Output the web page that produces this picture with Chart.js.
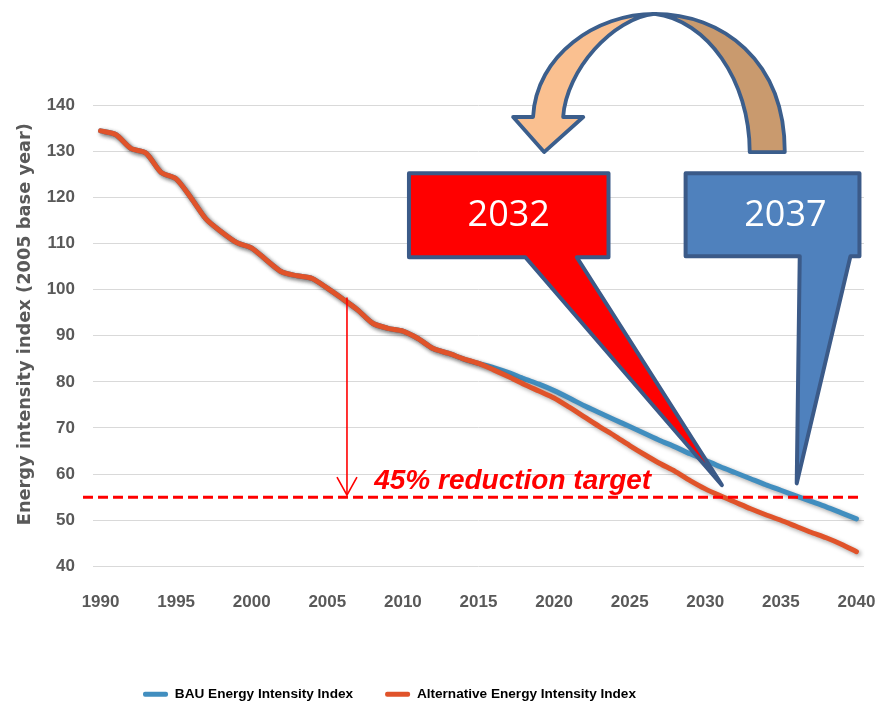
<!DOCTYPE html>
<html><head><meta charset="utf-8">
<script src="https://cdn.jsdelivr.net/npm/chart.js@4.4.1/dist/chart.umd.min.js"></script>
<style>html,body{margin:0;padding:0;background:#fff;overflow:hidden}#wrap{width:879px;height:708px}</style>
</head><body><div id="wrap"><canvas id="c" width="879" height="708"></canvas></div>
<script>
// ---------- data ----------
const years = ['1990','1991','1992','1993','1994','1995','1996','1997','1998','1999',
  '2000','2001','2002','2003','2004','2005','2006','2007','2008','2009',
  '2010','2011','2012','2013','2014','2015','2016','2017','2018','2019',
  '2020','2021','2022','2023','2024','2025','2026','2027','2028','2029',
  '2030','2031','2032','2033','2034','2035','2036','2037','2038','2039','2040'];
const bauValues = [134.4,133.6,130.6,129.6,125.4,124.0,119.8,115.2,112.5,110.2,
  109.0,106.3,103.8,103.0,102.4,100.3,98.0,95.6,92.7,91.6,
  91.0,89.4,87.2,86.2,85.0,84.0,83.1,82.0,80.7,79.5,
  78.1,76.5,74.8,73.3,71.8,70.3,68.8,67.3,65.9,64.4,
  63.0,61.6,60.3,59.0,57.7,56.5,55.3,54.1,52.9,51.6,50.3];
const altValues = [134.4,133.6,130.6,129.6,125.4,124.0,119.8,115.2,112.5,110.2,
  109.0,106.3,103.8,103.0,102.4,100.3,98.0,95.6,92.7,91.6,
  91.0,89.4,87.2,86.2,85.0,84.0,82.6,81.1,79.5,78.0,
  76.5,74.5,72.4,70.3,68.3,66.2,64.2,62.3,60.6,58.6,
  56.8,55.3,53.9,52.5,51.2,50.0,48.7,47.4,46.2,44.8,43.2];
const seriesNames = ['BAU Energy Intensity Index','Alternative Energy Intensity Index'];
const yMin = 40, yMax = 140, yStep = 10;
const targetValue = 55;
const targetLabel = '45% reduction target';
const arrowYear = 2006.3, arrowFrom = 98.3;
const callouts = [
  {label:'2032', fill:'#ff0000', box:[2010.4,2023.6,125.2,107.0], base:[2018.1,2021.5], tip:[2031.1,57.6], text:[2017.0,115.9]},
  {label:'2037', fill:'#4f81bd', box:[2028.7,2040.2,125.2,107.2], base:[2036.25,2039.6], tip:[2036.05,58.0], text:[2035.3,115.9]}
];
const yTitle = 'Energy intensity index (2005 base year)';

const FONT = '"Liberation Sans",Arial,sans-serif';
const GREY = '#595959';

const shadow = {
  id:'shadow',
  beforeDatasetDraw(chart){ const c=chart.ctx; c.save(); c.shadowColor='rgba(0,0,0,0.35)'; c.shadowBlur=4; c.shadowOffsetX=2; c.shadowOffsetY=2; },
  afterDatasetDraw(chart){ chart.ctx.restore(); }
};

// legend sits left of centre and a little lower in the reference
const legendShift = {
  id:'legendShift',
  afterLayout(chart){ const l=chart.legend; if(!l) return; l.left-=50; l.right-=50; l.top+=3; l.bottom+=3; }
};

const annot = {
  id:'annot',
  afterDatasetsDraw(chart){
    const {ctx, chartArea:ca, scales:{x,y}} = chart;
    const X = yr => x.getPixelForValue(yr - 1990);
    const Y = v => y.getPixelForValue(v);
    ctx.save();
    // target line
    ctx.strokeStyle='#ff0000'; ctx.lineWidth=3; ctx.setLineDash([10,5]);
    ctx.beginPath(); ctx.moveTo(ca.left-10, Y(targetValue)); ctx.lineTo(ca.right-2, Y(targetValue)); ctx.stroke();
    ctx.setLineDash([]);
    // arrow
    const ax = X(arrowYear), tipY = Y(targetValue)-2;
    ctx.lineWidth=1.6;
    ctx.beginPath(); ctx.moveTo(ax, Y(arrowFrom)); ctx.lineTo(ax, tipY); ctx.stroke();
    ctx.beginPath(); ctx.moveTo(ax-10, tipY-18); ctx.lineTo(ax, tipY); ctx.lineTo(ax+10, tipY-18); ctx.stroke();
    // target text
    ctx.fillStyle='#ff0000'; ctx.font='italic bold 28px '+FONT;
    ctx.textAlign='left'; ctx.textBaseline='alphabetic';
    ctx.fillText(targetLabel, X(2008.1), Y(56.7));
    // callouts
    ctx.lineJoin='round'; ctx.lineWidth=4; ctx.strokeStyle='#3b5a88';
    callouts.forEach(c=>{
      const [l,r,t,b]=c.box;
      ctx.beginPath();
      ctx.moveTo(X(l),Y(t)); ctx.lineTo(X(r),Y(t)); ctx.lineTo(X(r),Y(b));
      ctx.lineTo(X(c.base[1]),Y(b)); ctx.lineTo(X(c.tip[0]),Y(c.tip[1])); ctx.lineTo(X(c.base[0]),Y(b));
      ctx.lineTo(X(l),Y(b)); ctx.closePath();
      ctx.fillStyle=c.fill; ctx.fill(); ctx.stroke();
      ctx.fillStyle='#ffffff'; ctx.font='36px "Open Sans",sans-serif'; ctx.textAlign='center'; ctx.textBaseline='middle';
      ctx.fillText(c.label, X(c.text[0]), Y(c.text[1]));
    });
    // curved arrow
    const P = (yr,v)=>[X(yr),Y(v)];
    const apex = P(2026.64,159.74);
    ctx.lineWidth=3.8; ctx.strokeStyle='#3b5e8c';
    ctx.beginPath(); ctx.moveTo(...apex);
    ctx.bezierCurveTo(...P(2031.08,159.74), ...P(2035.26,149.76), ...P(2035.26,129.8));
    ctx.lineTo(...P(2032.94,129.8));
    ctx.bezierCurveTo(...P(2032.94,145.42), ...P(2030.09,158.44), ...apex);
    ctx.closePath(); ctx.fillStyle='#c99a6e'; ctx.fill(); ctx.stroke();
    ctx.beginPath(); ctx.moveTo(...apex);
    ctx.bezierCurveTo(...P(2022.79,159.74), ...P(2018.81,150.85), ...P(2018.61,137.4));
    ctx.lineTo(...P(2017.29,137.4)); ctx.lineTo(...P(2019.34,129.8)); ctx.lineTo(...P(2021.93,137.4));
    ctx.lineTo(...P(2020.6,137.4));
    ctx.bezierCurveTo(...P(2020.8,147.59), ...P(2023.92,158.87), ...apex);
    ctx.closePath(); ctx.fillStyle='#fac090'; ctx.fill(); ctx.stroke();
    // y title
    ctx.fillStyle=GREY; ctx.font='bold 17.8px "DejaVu Sans",sans-serif'; ctx.textAlign='center'; ctx.textBaseline='middle';
    ctx.translate(ca.left-68, Y(92.5)); ctx.rotate(-Math.PI/2); ctx.fillText(yTitle,0,0);
    ctx.restore();
  }
};

new Chart(document.getElementById('c'), {
  type:'line',
  data:{ labels: years, datasets:[
    {label:seriesNames[0], data:bauValues, borderColor:'#418ebf', backgroundColor:'#418ebf', borderWidth:5, pointRadius:0, tension:0.25, order:1, borderCapStyle:'round', borderJoinStyle:'round'},
    {label:seriesNames[1], data:altValues, borderColor:'#e0532a', backgroundColor:'#e0532a', borderWidth:5, pointRadius:0, tension:0.25, order:0, borderCapStyle:'round', borderJoinStyle:'round'}
  ]},
  options:{
    responsive:false, animation:false, devicePixelRatio:1,
    layout:{padding:{top:105,right:15,bottom:0,left:15}},
    plugins:{
      tooltip:{enabled:false},
      legend:{position:'bottom', align:'center',
        labels:{boxWidth:25, boxHeight:5, padding:32, color:'#000', useBorderRadius:true, borderRadius:2,
          font:{family:FONT, size:13.6, weight:'bold'},
          sort:(a,b)=>a.datasetIndex-b.datasetIndex,
          generateLabels(chart){ const it=Chart.defaults.plugins.legend.labels.generateLabels(chart); it.forEach(i=>{i.lineWidth=0; i.fillStyle=i.strokeStyle;}); return it; }
        }}
    },
    scales:{
      x:{type:'category', offset:true, grid:{display:false, drawTicks:true, tickLength:23}, border:{display:false},
        ticks:{autoSkip:false, maxRotation:0, padding:3, color:GREY, font:{family:FONT, size:17, weight:'bold'},
          callback(v){ const l=this.getLabelForValue(v); return Number(l)%5===0 ? l : ''; }},
        afterFit(s){ s.height=86; }},
      y:{min:yMin, max:yMax, grid:{color:'#d9d9d9', lineWidth:1, drawTicks:false}, border:{display:false},
        ticks:{stepSize:yStep, padding:18, color:GREY, font:{family:FONT, size:17, weight:'bold'}},
        afterFit(s){ s.width=78; }}
    }
  },
  plugins:[shadow, legendShift, annot]
});
</script></body></html>
